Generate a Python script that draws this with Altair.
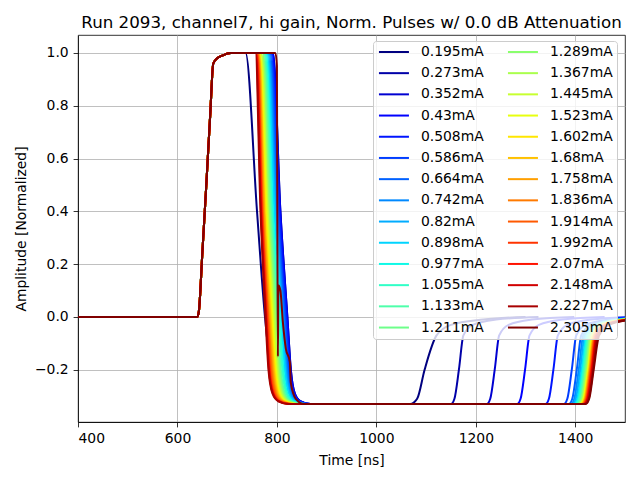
import altair as alt
import pandas as pd

# ---------------- data ----------------
currents = ["0.195", "0.273", "0.352", "0.43", "0.508", "0.586", "0.664",
            "0.742", "0.82", "0.898", "0.977", "1.055", "1.133", "1.211",
            "1.289", "1.367", "1.445", "1.523", "1.602", "1.68", "1.758",
            "1.836", "1.914", "1.992", "2.07", "2.148", "2.227", "2.305"]

# leading edge (shared by all pulses)
rise_t = [400, 640, 643, 650, 658, 666, 672, 680, 690, 707]
rise_y = [0.0, 0.0, 0.02, 0.24, 0.5, 0.77, 0.96, 0.98, 0.99, 1.0]

# trailing edge: time [ns] at which each pulse reaches the given level
fall_y = [1.0, 0.4, 0.0, -0.2, -0.29, -0.32, -0.33]
fall_top = [737, 792, 792, 791, 790, 788, 786, 784, 782, 780, 778, 776, 774, 772,
            771, 769, 768, 766, 765, 764, 763, 762, 761, 760, 759, 758, 757, None]
fall_a = [760, 807, 807, 806, 805, 803, 801, 799, 797, 795, 792, 790, 788, 786,
          784, 782, 781, 779, 777, 775, 774, 772, 771, 770, 769, 768, 767, None]
fall_b = [776, 821, 821, 820, 819, 817, 815, 813, 811, 809, 806, 804, 801, 799,
          797, 795, 793, 791, 789, 787, 785, 783, 782, 780, 779, 778, 777, None]
fall_c = [788, 828, 828, 827, 826, 824, 822, 820, 818, 816, 813, 811, 808, 806,
          804, 802, 800, 798, 796, 794, 792, 790, 788, 786, 785, 784, 783, None]
fall_d = [798, 836, 836, 835, 834, 832, 830, 828, 826, 824, 821, 819, 816, 814,
          812, 810, 808, 806, 804, 802, 800, 798, 796, 794, 793, 792, 791, None]
fall_e = [812, 848, 848, 847, 846, 844, 842, 840, 838, 836, 833, 831, 828, 826,
          824, 822, 820, 818, 816, 814, 812, 810, 808, 806, 805, 804, 803, None]
fall_f = [835, 868, 868, 867, 866, 864, 862, 860, 858, 856, 853, 851, 848, 846,
          844, 842, 840, 838, 836, 834, 832, 830, 828, 826, 825, 824, 823, None]

# the noisy 2.305 mA trailing edge
glitch_t = [797, 800, 801, 802, 803, 807, 812, 818, 826, 828, 838, 855]
glitch_y = [1.0, 0.95, 0.3, -0.15, 0.12, 0.1, -0.02, -0.12, -0.17, -0.25, -0.31, -0.33]

# recovery from the undershoot
rec_y = [-0.33, -0.31, -0.2, -0.07, -0.03, -0.01, 0.0]
rec_foot = [1068, 1150, 1222, 1283, 1340, 1377, 1387, 1391, 1394, 1397, 1399, 1401, 1403, 1405,
            1406, 1408, 1409, 1410, 1411, 1412, 1413, 1414, 1415, 1416, 1417, 1418, 1420, 1421]
rec_a = [1082, 1157, 1229, 1290, 1347, 1384, 1394, 1398, 1401, 1404, 1406, 1408, 1410, 1412,
         1413, 1415, 1416, 1417, 1418, 1419, 1420, 1421, 1422, 1423, 1424, 1425, 1427, 1428]
rec_mid = [1097, 1166, 1238, 1299, 1356, 1393, 1403, 1407, 1410, 1413, 1415, 1417, 1419, 1421,
           1422, 1424, 1425, 1426, 1427, 1428, 1429, 1430, 1431, 1432, 1433, 1434, 1436, 1437]
rec_knee = [1121, 1175, 1247, 1308, 1365, 1402, 1412, 1416, 1419, 1422, 1424, 1426, 1428, 1430,
            1431, 1433, 1434, 1435, 1436, 1437, 1438, 1439, 1440, 1441, 1442, 1443, 1445, 1448]
rec_t1 = [1150, 1194, 1266, 1327, 1384, 1421, 1431, 1435, 1438, 1441, 1443, 1445, 1447, 1449,
          1450, 1452, 1453, 1454, 1455, 1456, 1457, 1458, 1459, 1460, 1461, 1462, 1464, 1468]
rec_t2 = [1215, 1241, 1313, 1374, 1431, 1468, 1478, 1482, 1485, 1488, 1490, 1492, 1494, 1496,
          1497, 1499, 1500, 1501, 1502, 1503, 1504, 1505, 1506, 1507, 1508, 1509, 1511, 1514]
rec_t3 = [1300, 1326, 1398, 1459, 1516, 1553, 1563, 1567, 1570, 1573, 1575, 1577, 1579, 1581,
          1582, 1584, 1585, 1586, 1587, 1588, 1589, 1590, 1591, 1592, 1593, 1594, 1596, 1600]

x_ticks = [400, 600, 800, 1000, 1200, 1400]
y_ticks = [-0.2, 0.0, 0.2, 0.4, 0.6, 0.8, 1.0]


# ---------------- colours: matplotlib "jet" ----------------
def jet(x):
    idx = min(int(x * 256), 255)
    x = idx / 255.0
    segs = {
        "r": [(0, 0), (0.35, 0), (0.66, 1), (0.89, 1), (1, 0.5)],
        "g": [(0, 0), (0.125, 0), (0.375, 1), (0.64, 1), (0.91, 0), (1, 0)],
        "b": [(0, 0.5), (0.11, 1), (0.34, 1), (0.65, 0), (1, 0)],
    }
    out = []
    for c in "rgb":
        pts = segs[c]
        v = pts[-1][1]
        for (x0, y0), (x1, y1) in zip(pts[:-1], pts[1:]):
            if x0 <= x <= x1:
                v = y0 + (y1 - y0) * (x - x0) / (x1 - x0)
                break
        out.append(int(round(v * 255)))
    return "#%02x%02x%02x" % tuple(out)


n = len(currents)
labels = [c + "mA" for c in currents]
colors = [jet(i / (n - 1)) for i in range(n)]

# ---------------- table ----------------
rows = []
for i in range(n):
    pts = list(zip(rise_t, rise_y))
    if fall_top[i] is None:
        pts += list(zip(glitch_t, glitch_y))
    else:
        ft = [fall_top[i], fall_a[i], fall_b[i], fall_c[i], fall_d[i], fall_e[i], fall_f[i]]
        pts += list(zip(ft, fall_y))
    rt = [rec_foot[i], rec_a[i], rec_mid[i], rec_knee[i], rec_t1[i], rec_t2[i], rec_t3[i]]
    pts += list(zip(rt, rec_y))
    for k, (t, y) in enumerate(pts):
        rows.append({"label": labels[i], "t": t, "amp": y, "k": k, "s": i})
df = pd.DataFrame(rows)

FONT = "DejaVu Sans"

chart = alt.Chart(df).mark_line(strokeWidth=2, clip=True, interpolate="monotone").encode(
    x=alt.X("t:Q",
            scale=alt.Scale(domain=[400, 1500], nice=False, zero=False),
            axis=alt.Axis(values=x_ticks, format="d", title="Time [ns]")),
    y=alt.Y("amp:Q",
            scale=alt.Scale(domain=[-0.398, 1.068], nice=False, zero=False),
            axis=alt.Axis(values=y_ticks, format=".1f", title="Amplitude [Normalized]")),
    color=alt.Color("label:N",
                    scale=alt.Scale(domain=labels, range=colors),
                    legend=alt.Legend(
                        title=None, orient="none", legendX=295, legendY=6,
                        columns=2, symbolType="M-3,0H3", symbolSize=100,
                        symbolOffset=10, symbolStrokeWidth=2,
                        labelFont=FONT, labelFontSize=13.9, labelColor="black",
                        labelOffset=20, labelLimit=200, rowPadding=6.2,
                        columnPadding=19, padding=4, symbolLimit=60,
                        fillColor="rgba(255,255,255,0.8)", strokeColor="#cccccc",
                        cornerRadius=3)),
    detail="s:O",
    order="k:Q",
).properties(
    width=547, height=387,
    title=alt.TitleParams("Run 2093, channel7, hi gain, Norm. Pulses w/ 0.0 dB Attenuation",
                          font=FONT, fontSize=16.7, fontWeight="normal", anchor="middle",
                          baseline="alphabetic", offset=-10, color="black"),
    autosize=alt.AutoSizeParams(type="none"),
    padding={"left": 70, "top": 27, "right": 6, "bottom": 50},
).configure_view(
    stroke="black", strokeWidth=0.8
).configure_axis(
    labelFont=FONT, titleFont=FONT, labelFontSize=13.9, titleFontSize=13.9,
    titleFontWeight="normal", labelColor="black", titleColor="black",
    domainColor="black", domainWidth=0.8, tickColor="black", tickWidth=0.8,
    tickSize=4.9, labelPadding=4.9, gridColor="#b0b0b0", gridWidth=0.8,
    gridOpacity=1,
).configure_axisX(
    titlePadding=8
).configure_axisY(
    titlePadding=6
)

chart.save("out.html", embed_options={"renderer": "svg", "actions": False})
